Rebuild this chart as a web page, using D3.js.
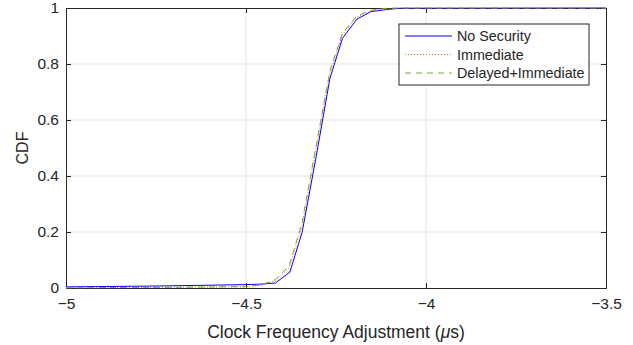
<!DOCTYPE html>
<html>
<head>
<meta charset="utf-8">
<script src="https://d3js.org/d3.v7.min.js"></script>
<style>
  body { margin: 0; background: #fff; }
  text { font-family: "Liberation Sans", Arial, Helvetica, sans-serif; fill: #262626; }
</style>
</head>
<body>
<div id="chart"></div>
<script>
// values
var xNoSec   = [-5, -4.75, -4.5, -4.456, -4.418, -4.378, -4.344, -4.305, -4.267, -4.232, -4.192, -4.153, -4.107, -4.07, -3.5];
var yNoSec   = [0.004, 0.007, 0.012, 0.014, 0.018, 0.057, 0.2, 0.47, 0.748, 0.892, 0.96, 0.987, 0.995, 0.999, 1];

var xImm     = [-5, -4.75, -4.5, -4.456, -4.418, -4.38, -4.344, -4.305, -4.267, -4.232, -4.192, -4.153, -4.117, -4.08, -3.5];
var yImm     = [0.001, 0.002, 0.004, 0.01, 0.026, 0.072, 0.225, 0.5, 0.768, 0.905, 0.968, 0.99, 0.997, 1, 1];

var xDel     = [-5, -4.75, -4.5, -4.456, -4.418, -4.38, -4.344, -4.305, -4.267, -4.232, -4.192, -4.153, -4.117, -4.08, -3.5];
var yDel     = [0.001, 0.002, 0.005, 0.012, 0.03, 0.08, 0.235, 0.51, 0.775, 0.91, 0.972, 0.992, 0.998, 1, 1];

var seriesNames = ["No Security", "Immediate", "Delayed+Immediate"];
var xTicks = [-5, -4.5, -4, -3.5];
var yTicks = [0, 0.2, 0.4, 0.6, 0.8, 1];

var W = 633, H = 345;
var m = {left: 66, right: 27, top: 8, bottom: 57};
var w = W - m.left - m.right, h = H - m.top - m.bottom;

var svg = d3.select("#chart").append("svg").attr("width", W).attr("height", H);
var g = svg.append("g").attr("transform", "translate(" + m.left + "," + m.top + ")");

var x = d3.scaleLinear().domain([-5, -3.5]).range([0, w]);
var y = d3.scaleLinear().domain([0, 1]).range([h, 0]);

// grid
g.append("g").selectAll("line").data(xTicks.slice(1, -1)).enter().append("line")
  .attr("x1", d => x(d)).attr("x2", d => x(d)).attr("y1", 0).attr("y2", h)
  .attr("stroke", "#e3e3e3").attr("stroke-width", 1);
g.append("g").selectAll("line").data(yTicks.slice(1, -1)).enter().append("line")
  .attr("y1", d => y(d)).attr("y2", d => y(d)).attr("x1", 0).attr("x2", w)
  .attr("stroke", "#e3e3e3").attr("stroke-width", 1);

// axes
g.append("g").attr("transform", "translate(0," + h + ")")
  .call(d3.axisBottom(x).tickValues(xTicks).tickSize(-5).tickPadding(10).tickFormat(d3.format("")));
g.append("g")
  .call(d3.axisLeft(y).tickValues(yTicks).tickSize(-5).tickPadding(7).tickFormat(d3.format("")));
// top and right ticks (box)
g.append("g").call(d3.axisTop(x).tickValues(xTicks).tickSize(-5).tickFormat(""));
g.append("g").attr("transform", "translate(" + w + ",0)")
  .call(d3.axisRight(y).tickValues(yTicks).tickSize(-5).tickFormat(""));
g.selectAll(".domain").attr("stroke", "#262626");
g.selectAll(".tick line").attr("stroke", "#262626");
g.selectAll(".tick text").style("font-size", "15.5px").attr("fill", "#262626");

// curves
var line = d3.line().x(d => x(d[0])).y(d => y(d[1]));
var curves = [
  {xs: xNoSec, ys: yNoSec, color: "#0000ff", dash: null},
  {xs: xImm,   ys: yImm,   color: "#ff5a36", dash: "1,2"},
  {xs: xDel,   ys: yDel,   color: "#77ac30", dash: "6,5"}
];
curves.forEach(function (c) {
  g.append("path")
    .datum(d3.zip(c.xs, c.ys))
    .attr("d", line)
    .attr("fill", "none")
    .attr("stroke", c.color)
    .attr("stroke-width", 1)
    .attr("stroke-dasharray", c.dash);
});

// legend
var lg = g.append("g").attr("transform", "translate(" + (399 - m.left) + "," + (24 - m.top) + ")");
lg.append("rect").attr("width", 190).attr("height", 61)
  .attr("fill", "#fff").attr("stroke", "#262626").attr("stroke-width", 1);
seriesNames.forEach(function (name, i) {
  var yy = 12 + i * 18.5;
  lg.append("line").attr("x1", 6).attr("x2", 53).attr("y1", yy).attr("y2", yy)
    .attr("stroke", curves[i].color).attr("stroke-width", 1)
    .attr("stroke-dasharray", curves[i].dash);
  lg.append("text").attr("x", 58).attr("y", yy + 5).style("font-size", "14.3px").text(name);
});

// axis titles
var xl = svg.append("text").attr("x", m.left + w / 2).attr("y", 338)
  .attr("text-anchor", "middle").style("font-size", "17.5px");
xl.append("tspan").text("Clock Frequency Adjustment (");
xl.append("tspan").style("font-style", "italic").text("\u03bc");
xl.append("tspan").text("s)");

svg.append("text").attr("transform", "translate(28," + (m.top + h / 2) + ") rotate(-90)")
  .attr("text-anchor", "middle").style("font-size", "16px").text("CDF");
</script>
</body>
</html>
